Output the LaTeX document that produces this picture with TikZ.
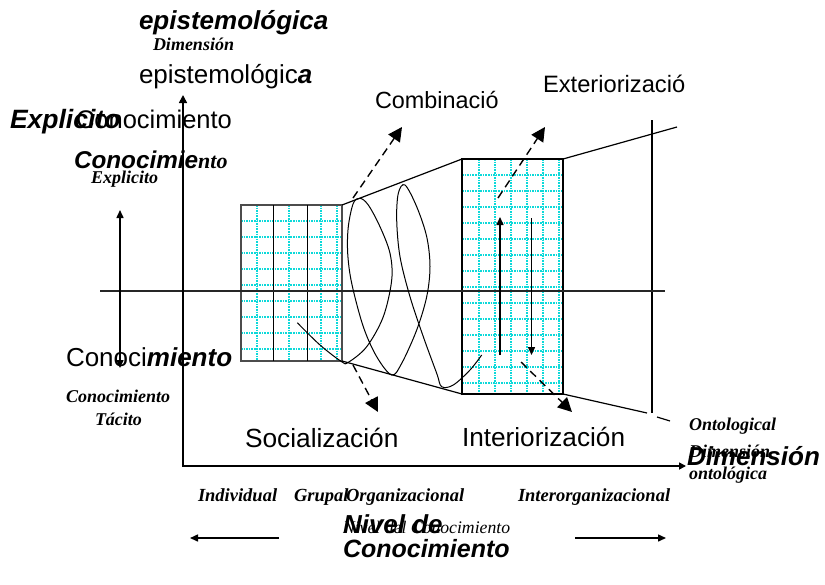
\documentclass[tikz,border=0pt]{standalone}
\usepackage{fontspec}
\setmainfont{Liberation Serif}
\setsansfont{Liberation Sans}
\usetikzlibrary{arrows.meta}
\definecolor{gridcyan}{rgb}{0.05,0.85,0.85}
\begin{document}
\begin{tikzpicture}[x=1pt,y=-1pt,
  sr/.style={font=\sffamily\fontsize{#1}{#1}\selectfont, anchor=base west, inner sep=0pt, outer sep=0pt},
  sbi/.style={font=\sffamily\bfseries\itshape\fontsize{#1}{#1}\selectfont, anchor=base west, inner sep=0pt, outer sep=0pt},
  rbi/.style={font=\rmfamily\bfseries\itshape\fontsize{#1}{#1}\selectfont, anchor=base west, inner sep=0pt, outer sep=0pt},
  ri/.style={font=\rmfamily\itshape\fontsize{#1}{#1}\selectfont, anchor=base west, inner sep=0pt, outer sep=0pt},
  gridl/.style={draw=gridcyan, line width=1.1pt, dash pattern=on 1.6pt off 1pt},
  blockbox/.style={draw=black!70, line width=1.2pt},
  thinln/.style={line width=1.2pt},
  axisln/.style={line width=1.6pt, {Triangle[length=8pt,width=8pt]}-{Triangle[length=7pt,width=7pt]}},
  solarr/.style={line width=1.5pt, -{Triangle[length=8pt,width=7pt]}},
  dblarr/.style={line width=1.5pt, {Triangle[length=8pt,width=7pt]}-{Triangle[length=8pt,width=7pt]}},
  dasharr/.style={line width=1.4pt, dash pattern=on 8pt off 5pt, -{Triangle[length=14pt,width=14pt]}},
  spiral/.style={line width=1pt}
]
\useasboundingbox (0,0) rectangle (825,584);
\fill[white] (0,0) rectangle (825,584);

% ---- grids ----
\foreach \x in {257,289,321,337} \draw[gridl] (\x,205) -- (\x,361);
\foreach \y in {221,237,...,349} \draw[gridl] (241,\y) -- (342,\y);
\foreach \x in {479,495,511,527,543,559} \draw[gridl] (\x,159) -- (\x,394);
\foreach \y in {175,191,...,383} \draw[gridl] (462,\y) -- (563,\y);

% ---- blocks ----
\draw[blockbox] (241,205) rectangle (342,361);
\draw[line width=1pt] (273,205) -- (273,361);
\draw[line width=1pt] (307,205) -- (307,361);
\draw[blockbox, draw=black] (462,159) rectangle (563,394);

% ---- funnel ----
\coordinate (LT) at (342,205);
\coordinate (LB) at (342,361);
\coordinate (RT) at (462,159);
\coordinate (RB) at (462,394);
\coordinate (RRT) at (563,159);
\coordinate (RRB) at (563,394);
\coordinate (FT) at (677,127);
\coordinate (FB) at (647,413);
\coordinate (FD1) at (657,417);
\coordinate (FD2) at (670,421);
\draw[thinln] (LT) -- (RT);
\draw[thinln] (LB) -- (RB);
\draw[thinln] (RRT) -- (FT);
\draw[thinln] (RRB) -- (FB);
\draw[thinln] (FD1) -- (FD2);
\coordinate (VT) at (652,120);
\coordinate (VB) at (652,413);
\draw[line width=1.5pt] (VT) -- (VB);

% ---- middle line ----
\coordinate (ML) at (100,291);
\coordinate (MR) at (665,291);
\draw[line width=1.4pt, black!85] (ML) -- (MR);

% ---- axes ----
\coordinate (Ytip) at (183,95);
\coordinate (O) at (183,466);
\coordinate (Xtip) at (686,466);
\draw[axisln] (Ytip) -- (O) -- (Xtip);

% ---- left double arrow ----
\coordinate (DA1) at (120,210);
\coordinate (DA2) at (120,368);
\draw[dblarr] (DA1) -- (DA2);

% ---- bottom arrows ----
\coordinate (BL1) at (279,538);
\coordinate (BL2) at (190,538);
\coordinate (BR1) at (575,538);
\coordinate (BR2) at (666,538);
\draw[solarr] (BL1) -- (BL2);
\draw[solarr] (BR1) -- (BR2);

% ---- arrows inside right block ----
\coordinate (UA1) at (500,355);
\coordinate (UA2) at (500,217);
\coordinate (DA3) at (531.5,218);
\coordinate (DA4) at (531.5,355);
\draw[solarr] (UA1) -- (UA2);
\draw[solarr] (DA3) -- (DA4);

% ---- spiral ----
\draw[spiral] plot[smooth, tension=0.55] coordinates {
 (297.3,322.7) (320,345) (341.7,361.7) (348.3,362.3) (366.7,346.7) (383.3,316.7)
 (391.7,280) (390,253.3) (380,226.7) (368.3,205) (360,198.3) (353.3,203.3)
 (348.3,226.7) (347.7,253.3) (351.7,283.3) (363.3,326.7) (376.7,356.7)
 (391.7,375) (401.7,363.3) (416.7,330) (426.7,296.7) (430,266.7) (426.7,236.7)
 (416.7,206.7) (405,185) (398.3,193.3) (396.7,220) (400,256.7) (410,296.7)
 (423.3,336.7) (436.7,373.3) (441.7,386.7) (453.3,385) (470,370) (481.7,355)};

% ---- dashed arrows ----
\coordinate (C1) at (353,198);
\coordinate (C2) at (402,127);
\coordinate (S1) at (353,365);
\coordinate (S2) at (378,412);
\coordinate (E1) at (498,198);
\coordinate (E2) at (545,127);
\coordinate (I1) at (521,362);
\coordinate (I2) at (572,412);
\draw[dasharr] (C1) -- (C2);
\draw[dasharr] (S1) -- (S2);
\draw[dasharr] (E1) -- (E2);
\draw[dasharr] (I1) -- (I2);

% ---- texts ----
\node[sbi=26] (t1) at (139,29.3) {epistemológica};
\node[rbi=18] (t2) at (153,50.7) {Dimensión};
\node[sr=26] (t3) at (139,83.3) {epistemológic\textbf{\textit{a}}};
\node[sr=25.5] (t5) at (76,128.3) {Conocimiento};
\node[sbi=26.5] (t4) at (10,128.3) {Explicito};
\node[sbi=24.3] (t6) at (74,168.3) {Conocimie};
\node[rbi=22] (t6b) at (t6.base east) {nto};
\node[rbi=18] (t7) at (91,183.3) {Explicito};
\node[sr=26] (t8) at (66,366.7) {Conoci\textbf{\textit{miento}}};
\node[rbi=18] (t9) at (66,402.7) {Conocimiento};
\node[rbi=18] (t10) at (95,425) {Tácito};
\node[sr=26.3] (t11) at (245,447.7) {Socialización};
\node[sr=26.2] (t12) at (462,446.7) {Interiorización};
\node[sr=23.4] (t13) at (375,108.3) {Combinació};
\node[sr=23.7] (t14) at (543,92.3) {Exteriorizació};
\node[rbi=18] (t15) at (689,430) {Ontological};
\node[rbi=18] (t16) at (689,457.3) {Dimensión};
\node[sbi=26] (t17) at (687,465) {Dimensión};
\node[rbi=18] (t18) at (689,479) {ontológica};
\node[rbi=18.5] (t19) at (198,501.7) {Individual};
\node[rbi=18.5] (t20) at (294,501.7) {Grupal};
\node[rbi=18.5] (t21) at (346,501.7) {Organizacional};
\node[rbi=18.5] (t22) at (518,501.7) {Interorganizacional};
\node[ri=17.7] (t23) at (343,533) {Nivel del Conocimiento};
\node[sbi=26] (t24) at (343,533.3) {Nivel de};
\node[sbi=25] (t25) at (343,557.3) {Conocimiento};
\end{tikzpicture}
\end{document}
